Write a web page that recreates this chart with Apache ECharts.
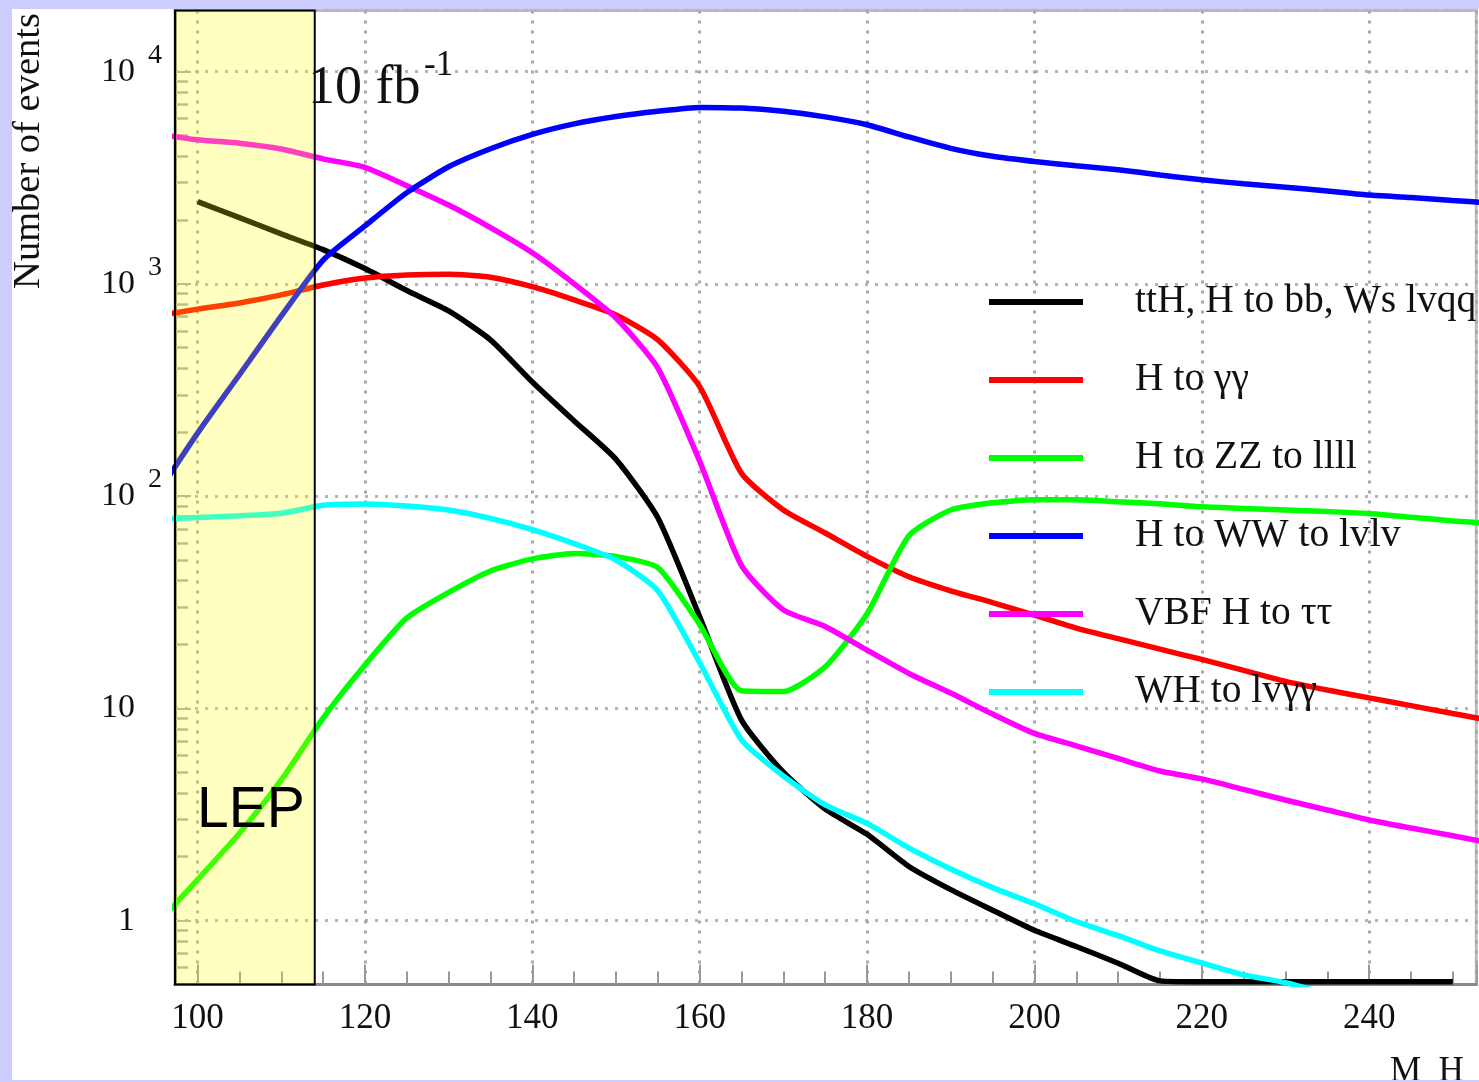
<!DOCTYPE html>
<html>
<head>
<meta charset="utf-8">
<title>Number of events vs M_H</title>
<script src="https://cdn.jsdelivr.net/npm/echarts@6/dist/echarts.min.js"></script>
<style>
  html, body { margin: 0; padding: 0; background: #ccccff; }
  #chart { width: 1479px; height: 1082px; }
</style>
</head>
<body>
<div id="chart"></div>
<script>
// Higgs mass points (GeV), 5 GeV steps
const massAll = [95, 100, 105, 110, 115, 120, 125, 130, 135, 140, 145, 150, 155, 160, 165, 170,
                 175, 180, 185, 190, 195, 200, 205, 210, 215, 220, 225, 230, 235, 240, 245, 250, 255];
const massTtH = [100, 105, 110, 115, 120, 125, 130, 135, 140, 145, 150, 155, 160, 165, 170, 175,
                 180, 185, 190, 195, 200, 205, 210, 215, 220, 225, 230, 235, 240, 245, 250];
const massWH  = [95, 100, 105, 110, 115, 120, 125, 130, 135, 140, 145, 150, 155, 160, 165, 170,
                 175, 180, 185, 190, 195, 200, 205, 210, 215, 220, 225, 230, 235];

// Expected number of events for 10 fb^-1
const ttH = [2440, 2050, 1720, 1450, 1180, 930, 745, 545, 345, 226, 149, 79, 27, 8.8, 5.0, 3.35,
             2.55, 1.8, 1.4, 1.12, 0.9, 0.755, 0.63, 0.52, 0.515, 0.515, 0.515, 0.515, 0.515, 0.515, 0.515];
const hGammaGamma = [705, 760, 813, 887, 988, 1065, 1100, 1110, 1075, 970, 840, 714, 545, 328, 128, 86,
                     67, 52, 41.7, 35.8, 31.5, 27.5, 23.9, 21.3, 19.0, 17.0, 15.1, 13.4, 12.2, 11.2, 10.3, 9.45, 8.7];
const hZZ = [0.95, 1.56, 2.58, 4.6, 9.0, 16.0, 26.7, 35.2, 44.4, 50.6, 53.7, 51.9, 46.0, 24.8, 12.1, 12.0,
             15.7, 27.9, 65, 86, 93, 96, 96, 94, 92, 89, 87.5, 86, 84.5, 82.8, 79.5, 76.4, 74];
const hWW = [100, 198, 373, 706, 1294, 1875, 2690, 3560, 4330, 5060, 5670, 6140, 6500, 6780, 6730, 6500,
             6120, 5620, 4920, 4350, 3990, 3770, 3600, 3450, 3260, 3090, 2960, 2850, 2740, 2620, 2550, 2470, 2400];
const vbfTauTau = [5100, 4770, 4600, 4320, 3880, 3540, 2900, 2350, 1840, 1400, 1000, 690, 401, 146, 47, 29.1,
                   24.3, 18.8, 14.6, 11.8, 9.4, 7.62, 6.66, 5.81, 5.07, 4.65, 4.15, 3.7, 3.32, 2.98, 2.73, 2.51, 2.3];
const whGammaGamma = [78, 79.2, 80.7, 83, 90.5, 91.9, 89.9, 86, 78.5, 69.5, 59.7, 50, 35.8, 16.4, 7.1, 4.8,
                      3.51, 2.87, 2.2, 1.75, 1.43, 1.2, 0.99, 0.85, 0.72, 0.632, 0.555, 0.51, 0.45];

const seriesNames = ['ttH, H to bb, Ws lvqq', 'H to \u03b3\u03b3', 'H to ZZ to llll',
                     'H to WW to lvlv', 'VBF H to \u03c4\u03c4', 'WH to lv\u03b3\u03b3'];
const seriesColors = ['#000000', '#ff0000', '#00ff00', '#0000ff', '#ff00ff', '#00ffff'];

// Axis ranges and the LEP exclusion limit
const X_MIN = 97.3, X_MAX = 252.8;
const Y_MIN = 0.5, Y_MAX = 19400;
const LEP_LIMIT = 114;

const SERIF = '"Liberation Serif", "DejaVu Serif", serif';

function pairs(xs, ys) { return ys.map((v, i) => [xs[i], v]); }

function curve(idx, xs, ys) {
  return {
    name: seriesNames[idx],
    type: 'line',
    data: pairs(xs, ys),
    color: seriesColors[idx],
    symbol: 'none',
    showSymbol: false,
    smooth: 0.2,
    clip: true,
    z: 2,
    lineStyle: { width: 5.5, color: seriesColors[idx] }
  };
}

function yLabel(v) {
  const e = Math.log10(v);
  const r = Math.round(e);
  if (Math.abs(e - r) > 1e-6 || r < 0) return '';
  if (r === 0) return '{b|1}{pad|\u00a0}';
  if (r === 1) return '{b|10}{pad|\u00a0}';
  return '{b|10}{s|' + r + '}';
}

const chart = echarts.init(document.getElementById('chart'), null, { renderer: 'canvas' });

chart.setOption({
  animation: false,
  backgroundColor: '#ccccff',
  grid: {
    left: 175, top: 10.5, width: 1301.3, height: 974,
    show: true, borderColor: '#bbbbbb', borderWidth: 3,
    containLabel: false, outerBoundsMode: 'none'
  },
  xAxis: {
    type: 'value',
    min: X_MIN, max: X_MAX,
    splitNumber: 8,
    axisLine: { show: true, onZero: false, lineStyle: { color: '#888888', width: 3 } },
    axisTick: { show: true, inside: true, length: 20, lineStyle: { color: '#999999', width: 2 } },
    minorTick: { show: true, splitNumber: 4, length: 13, lineStyle: { color: '#999999', width: 2 } },
    axisLabel: {
      margin: 17, fontFamily: SERIF, fontSize: 35, color: '#111111',
      showMinLabel: false, showMaxLabel: false,
      formatter: v => (Math.abs(v % 20) < 1e-9 ? String(v) : '')
    },
    splitLine: { show: true, lineStyle: { color: '#a8a8a8', width: 3, type: [3, 7] } }
  },
  yAxis: {
    type: 'log', logBase: 10,
    min: Y_MIN, max: Y_MAX,
    axisLine: { show: true, lineStyle: { color: '#808080', width: 3 } },
    axisTick: { show: true, inside: true, length: 16, lineStyle: { color: '#aaaaaa', width: 2 } },
    minorTick: { show: true, splitNumber: 9, length: 13, lineStyle: { color: '#aaaaaa', width: 2.5 } },
    axisLabel: {
      margin: 13, color: '#111111',
      showMinLabel: false, showMaxLabel: false,
      formatter: yLabel,
      rich: {
        b: { fontFamily: SERIF, fontSize: 34, lineHeight: 60, color: '#111111' },
        s: { fontFamily: SERIF, fontSize: 28, lineHeight: 28, verticalAlign: 'top', width: 27, align: 'right', color: '#111111' },
        pad: { fontFamily: SERIF, fontSize: 26, width: 27 }
      }
    },
    splitLine: { show: true, lineStyle: { color: '#b4b4b4', width: 3, type: [3, 7] } }
  },
  legend: {
    data: seriesNames,
    orient: 'vertical',
    left: 989, top: 282,
    padding: 0,
    itemGap: 38,
    itemWidth: 94, itemHeight: 6,
    icon: 'rect',
    selectedMode: false,
    textStyle: { fontFamily: SERIF, fontSize: 39.5, lineHeight: 40, color: '#111111', padding: [0, 0, 0, 47] }
  },
  series: [
    curve(0, massTtH, ttH),
    curve(1, massAll, hGammaGamma),
    curve(2, massAll, hZZ),
    curve(5, massWH, whGammaGamma),
    curve(4, massAll, vbfTauTau),
    curve(3, massAll, hWW),
    {
      // LEP exclusion band, a translucent yellow box over the curves
      name: 'LEP',
      type: 'line',
      data: [],
      z: 10,
      markArea: {
        silent: true,
        z: 10,
        itemStyle: { color: 'rgba(255,255,0,0.25)', borderColor: '#000000', borderWidth: 2 },
        data: [[{ xAxis: X_MIN }, { xAxis: LEP_LIMIT }]]
      }
    }
  ],
  graphic: [
    { type: 'rect', z: -100, silent: true, shape: { x: 12, y: 9, width: 1467, height: 1071 }, style: { fill: '#ffffff' } },
    { type: 'text', z: 50, x: 29, y: 151, rotation: Math.PI / 2, silent: true,
      style: { text: 'Number of events', font: '38.5px ' + SERIF, fill: '#111111',
               align: 'center', verticalAlign: 'middle', textAlign: 'center', textVerticalAlign: 'middle' } },
    { type: 'text', z: 50, x: 308, y: 89, silent: true,
      style: { text: '10 fb', font: '54px ' + SERIF, fill: '#111111',
               align: 'left', verticalAlign: 'middle', textAlign: 'left', textVerticalAlign: 'middle' } },
    { type: 'text', z: 50, x: 424, y: 66, silent: true,
      style: { text: '-1', font: '35px ' + SERIF, fill: '#111111',
               align: 'left', verticalAlign: 'middle', textAlign: 'left', textVerticalAlign: 'middle' } },
    { type: 'text', z: 50, x: 197, y: 811, silent: true,
      style: { text: 'LEP', font: '57px "Liberation Sans", Arial, sans-serif', fill: '#000000',
               align: 'left', verticalAlign: 'middle', textAlign: 'left', textVerticalAlign: 'middle' } },
    { type: 'text', z: 50, x: 1390, y: 1072, silent: true,
      style: { text: 'M_H', font: '35px ' + SERIF, fill: '#111111',
               align: 'left', verticalAlign: 'middle', textAlign: 'left', textVerticalAlign: 'middle' } },
    { type: 'rect', z: 100, silent: true, shape: { x: 0, y: 1080, width: 1479, height: 2 }, style: { fill: '#ccccff' } }
  ]
});
</script>
</body>
</html>
